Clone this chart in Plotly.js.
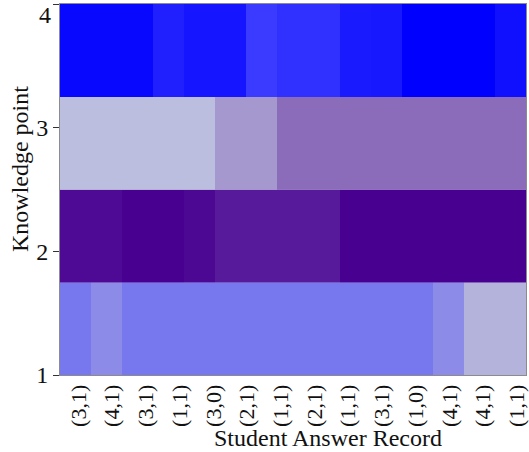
<!DOCTYPE html>
<html>
<head>
<meta charset="utf-8">
<script src="https://cdn.plot.ly/plotly-3.0.1.min.js"></script>
<style>
  html, body { margin: 0; padding: 0; background: #ffffff; }
  #chart { width: 529px; height: 452px; }
</style>
</head>
<body>
<div id="chart"></div>
<script>
// Answer records shown under the x axis: (exercise, correct/incorrect)
const recordLabels = ['(3,1)', '(4,1)', '(3,1)', '(1,1)', '(3,0)', '(2,1)', '(1,1)',
                      '(2,1)', '(1,1)', '(3,1)', '(1,0)', '(4,1)', '(4,1)', '(1,1)'];

// Knowledge points on the y axis
const knowledgePoints = [1, 2, 3, 4];

// Relative mastery level per knowledge point after each step (0 = low end, 1 = high end of its palette)
const kp1 = [1.00, 0.66, 1.00, 1.00, 1.00, 1.00, 1.00, 1.00, 1.00, 1.00, 1.00, 1.00, 0.66, 0.00, 0.00];
const kp2 = [0.60, 0.60, 1.00, 1.00, 0.75, 0.00, 0.00, 0.00, 0.00, 1.00, 1.00, 1.00, 1.00, 1.00, 1.00];
const kp3 = [0.00, 0.00, 0.00, 0.00, 0.00, 0.46, 0.46, 1.00, 1.00, 1.00, 1.00, 1.00, 1.00, 1.00, 1.00];
const kp4 = [0.87, 0.87, 0.87, 0.47, 0.65, 0.65, 0.02, 0.20, 0.20, 0.57, 0.60, 1.00, 1.00, 1.00, 0.73];

// Palette (low -> high) used for each knowledge point's band
const palettes = {
  1: ['#b3b3dc', '#7878ee'],
  2: ['#561a9a', '#480090'],
  3: ['#bbbede', '#8b6cbb'],
  4: ['#3c3cff', '#0000ff']
};

const rows = { 1: kp1, 2: kp2, 3: kp3, 4: kp4 };

// Each knowledge point occupies an equal band of the [1, 4] y range
const yMin = 1, yMax = 4;
const band = (yMax - yMin) / knowledgePoints.length;
const nSteps = kp1.length;
const xEdges = Array.from({ length: nSteps + 1 }, (_, i) => i);

const traces = knowledgePoints.map((kp, r) => ({
  type: 'heatmap',
  z: [rows[kp]],
  x: xEdges,
  y: [yMin + band * r, yMin + band * (r + 1)],
  zmin: 0,
  zmax: 1,
  colorscale: [[0, palettes[kp][0]], [1, palettes[kp][1]]],
  showscale: false,
  hoverinfo: 'skip'
}));

// Record labels are spread on their own spacing along the bottom
const tickStart = 0.6, tickStep = 1.085;
const tickVals = recordLabels.map((_, i) => tickStart + i * tickStep);

const font = 'Liberation Serif, Times New Roman, serif';

// The top knowledge-point label hangs below its tick so it stays on the page
const yTickText = knowledgePoints.map(k => (k === yMax ? '' : String(k)));

const layout = {
  width: 529,
  height: 452,
  margin: { l: 60, r: 3, t: 4, b: 77 },
  paper_bgcolor: '#ffffff',
  plot_bgcolor: '#ffffff',
  font: { family: font, color: '#111111' },
  showlegend: false,
  xaxis: {
    range: [0, nSteps],
    tickmode: 'array',
    tickvals: tickVals,
    ticktext: recordLabels,
    tickangle: -90,
    tickfont: { family: font, size: 22, color: '#111111' },
    ticklabeloverflow: 'allow',
    ticks: '',
    showgrid: false,
    zeroline: false,
    showline: true,
    mirror: true,
    linecolor: '#8c8c8c',
    linewidth: 1,
    fixedrange: true
  },
  yaxis: {
    range: [yMin, yMax],
    tickmode: 'array',
    tickvals: knowledgePoints,
    ticktext: yTickText,
    tickfont: { family: font, size: 24, color: '#111111' },
    ticklabeloverflow: 'allow',
    ticks: 'outside',
    ticklen: 6,
    tickwidth: 1,
    tickcolor: '#333333',
    showgrid: false,
    zeroline: false,
    showline: true,
    mirror: true,
    linecolor: '#8c8c8c',
    linewidth: 1,
    fixedrange: true
  },
  annotations: [
    {
      text: String(yMax),
      xref: 'paper', yref: 'y',
      x: 0, y: yMax,
      xanchor: 'right', yanchor: 'top',
      xshift: -7, yshift: 4,
      showarrow: false,
      font: { family: font, size: 24, color: '#111111' }
    },
    {
      text: 'Student Answer Record',
      xref: 'paper', yref: 'paper',
      x: 0.575, y: -0.13,
      xanchor: 'center', yanchor: 'top',
      showarrow: false,
      font: { family: font, size: 24, color: '#111111' }
    },
    {
      text: 'Knowledge point',
      xref: 'paper', yref: 'paper',
      x: -0.086, y: 0.555,
      xanchor: 'center', yanchor: 'middle',
      textangle: -90,
      showarrow: false,
      font: { family: font, size: 24, color: '#111111' }
    }
  ]
};

Plotly.newPlot('chart', traces, layout, { displayModeBar: false, staticPlot: true });
</script>
</body>
</html>
